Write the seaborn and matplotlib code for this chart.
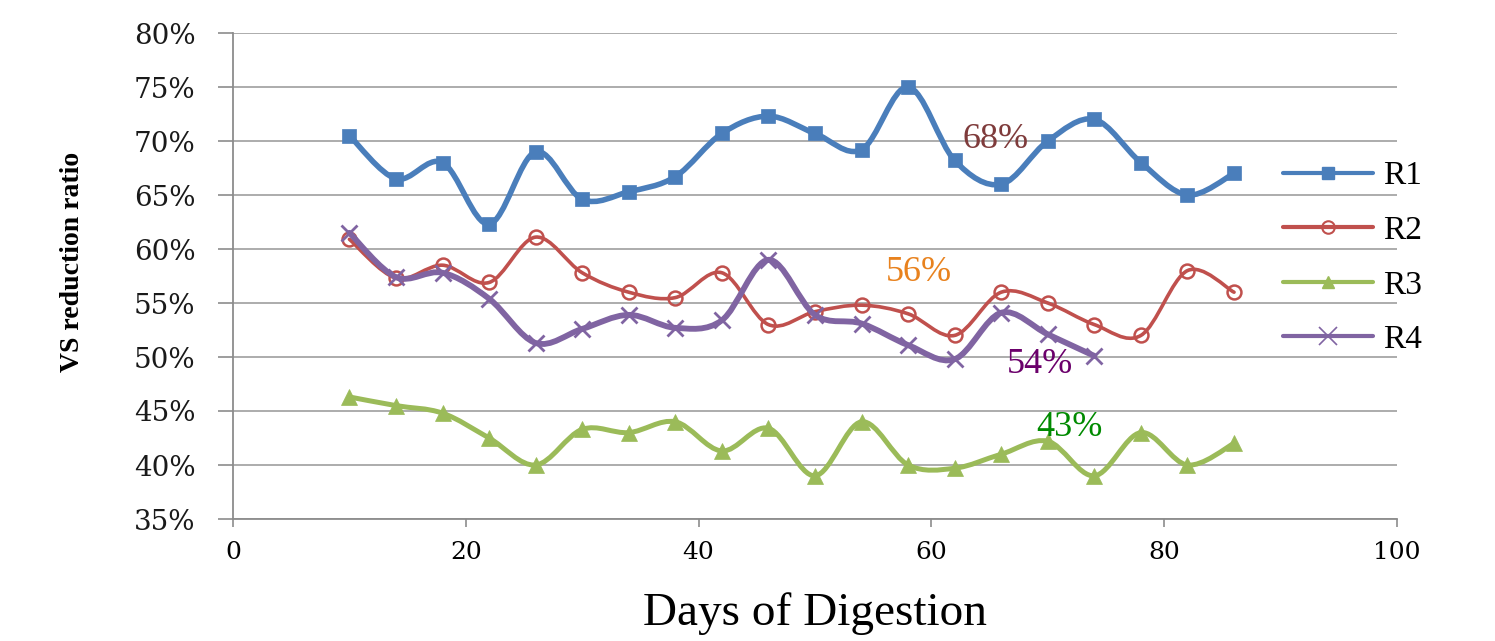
import numpy as np
import pandas as pd
import matplotlib
matplotlib.use("Agg")
import matplotlib.pyplot as plt
import seaborn as sns
from matplotlib.path import Path
from matplotlib.patches import PathPatch
from matplotlib.lines import Line2D

# ---------------- data ----------------
days = [10, 14, 18, 22, 26, 30, 34, 38, 42, 46, 50, 54, 58, 62, 66, 70, 74, 78, 82, 86]
days_r4 = [10, 14, 18, 22, 26, 30, 34, 38, 42, 46, 50, 54, 58, 62, 66, 70, 74]
r1 = [70.5, 66.5, 68.0, 62.3, 69.0, 64.6, 65.3, 66.7, 70.7, 72.3,
      70.7, 69.2, 75.0, 68.2, 66.0, 70.0, 72.0, 68.0, 65.0, 67.0]
r2 = [60.9, 57.3, 58.5, 56.9, 61.1, 57.8, 56.0, 55.5, 57.8, 53.0,
      54.2, 54.8, 54.0, 52.0, 56.0, 55.0, 53.0, 52.0, 58.0, 56.0]
r3 = [46.3, 45.5, 44.8, 42.5, 40.0, 43.3, 43.0, 44.0, 41.3, 43.4,
      39.0, 44.0, 40.0, 39.7, 41.0, 42.2, 39.0, 43.0, 40.0, 42.0]
r4 = [61.5, 57.4, 57.8, 55.4, 51.3, 52.6, 53.9, 52.7, 53.4, 59.0,
      53.9, 53.1, 51.1, 49.8, 54.1, 52.1, 50.1]
series_names = ["R1", "R2", "R3", "R4"]
yticks = [35, 40, 45, 50, 55, 60, 65, 70, 75, 80]
xticks = [0, 20, 40, 60, 80, 100]
annot_texts = ["68%", "56%", "54%", "43%"]
annot_x = [65.5, 58.9, 69.3, 71.9]
annot_y = [70.1, 57.8, 49.3, 43.5]

# ---------------- style ----------------
sns.set_style("white")
plt.rcParams["font.family"] = ["Liberation Serif", "DejaVu Serif"]
plt.rcParams["text.color"] = "black"
plt.rcParams["axes.labelcolor"] = "black"

colors = {"R1": "#4A7EBB", "R2": "#C0504D", "R3": "#9BBB59", "R4": "#8064A2"}
markers = {"R1": "s", "R2": "o", "R3": "^", "R4": "x"}
msizes = {"R1": 10, "R2": 10, "R3": 11, "R4": 12}
lws = {"R1": 4.0, "R2": 2.6, "R3": 3.6, "R4": 4.2}
annot_colors = ["#7F3B3B", "#E8821E", "#6B006B", "#008A00"]

frames = []
for name, xs, ys in [("R1", days, r1), ("R2", days, r2), ("R3", days, r3), ("R4", days_r4, r4)]:
    frames.append(pd.DataFrame({"day": xs, "val": ys, "series": name}))
df = pd.concat(frames, ignore_index=True)

fig = plt.figure(figsize=(14.95, 6.41), dpi=100)
ax = fig.add_axes([233 / 1495, 1 - 519 / 641, (1397 - 233) / 1495, (519 - 33) / 641])


def smooth_path(xs, ys):
    pts = np.column_stack([xs, ys]).astype(float)
    n = len(pts)
    verts = [pts[0]]
    codes = [Path.MOVETO]
    for i in range(n - 1):
        p0 = pts[i - 1] if i > 0 else pts[i]
        p1 = pts[i]
        p2 = pts[i + 1]
        p3 = pts[i + 2] if i + 2 < n else pts[i + 1]
        c1 = p1 + (p2 - p0) / 6.0
        c2 = p2 - (p3 - p1) / 6.0
        verts += [c1, c2, p2]
        codes += [Path.CURVE4] * 3
    return Path(verts, codes)


for k, name in enumerate(series_names):
    sub = df[df["series"] == name]
    patch = PathPatch(smooth_path(sub["day"].values, sub["val"].values),
                      facecolor="none", edgecolor=colors[name], lw=lws[name],
                      capstyle="round", joinstyle="round", zorder=3 + k)
    ax.add_patch(patch)
    kw = dict(marker=markers[name], markersize=msizes[name], color=colors[name],
              linewidth=0, legend=False, zorder=3.5 + k)
    if name == "R2":
        kw.update(markerfacecolor="none", markeredgecolor=colors[name], markeredgewidth=1.8)
    elif name == "R4":
        kw.update(markeredgecolor=colors[name], markeredgewidth=2.0)
    else:
        kw.update(markeredgecolor=colors[name], markeredgewidth=0.5)
    sns.lineplot(data=sub, x="day", y="val", ax=ax, **kw)

for t, x, y, c in zip(annot_texts, annot_x, annot_y, annot_colors):
    ax.text(x, y, t, color=c, fontsize=26, ha="center", va="center", zorder=10)

ax.set_xlim(0, 100)
ax.set_ylim(35, 80)
ax.set_xticks(xticks)
ax.set_xticklabels([str(v) for v in xticks], family=["DejaVu Serif"], fontsize=18, color="black")
ax.set_yticks(yticks)
ax.set_yticklabels([f"{v}%" for v in yticks], family=["DejaVu Serif"], fontsize=20, color="#1a1a1a")

ax.yaxis.grid(True, color="#A6A6A6", lw=1.3)
ax.xaxis.grid(False)
for s in ["top", "right"]:
    ax.spines[s].set_visible(False)
for s in ["left", "bottom"]:
    ax.spines[s].set_color("#8C8C8C")
    ax.spines[s].set_linewidth(1.3)
ax.tick_params(axis="y", direction="out", length=11, width=1.2, color="#8C8C8C", pad=16, left=True)
ax.tick_params(axis="x", direction="out", length=6, width=1.2, color="#8C8C8C", pad=10, bottom=True)

ax.set_xlabel("Days of Digestion", fontsize=34, labelpad=20, color="black")
ax.set_ylabel("VS reduction ratio", fontsize=20, fontweight="bold", color="black")
ax.yaxis.set_label_coords(-0.127, 0.529)

handles = []
for name in series_names:
    kw = dict(color=colors[name], lw=3, marker=markers[name], markersize=9)
    if name == "R2":
        kw.update(markerfacecolor="none", markeredgewidth=1.5)
    elif name == "R4":
        kw.update(markeredgewidth=1.2, markersize=13)
    handles.append(Line2D([0], [0], **kw))
leg = fig.legend(handles, series_names, loc="upper left",
                 bbox_to_anchor=(1283 / 1495, 1 - 161 / 641), frameon=False,
                 fontsize=24, handlelength=2.7, handletextpad=0.3,
                 labelspacing=0.72, borderpad=0, borderaxespad=0)
for t in leg.get_texts():
    t.set_color("black")

fig.savefig("out.png", dpi=100, facecolor="white")
